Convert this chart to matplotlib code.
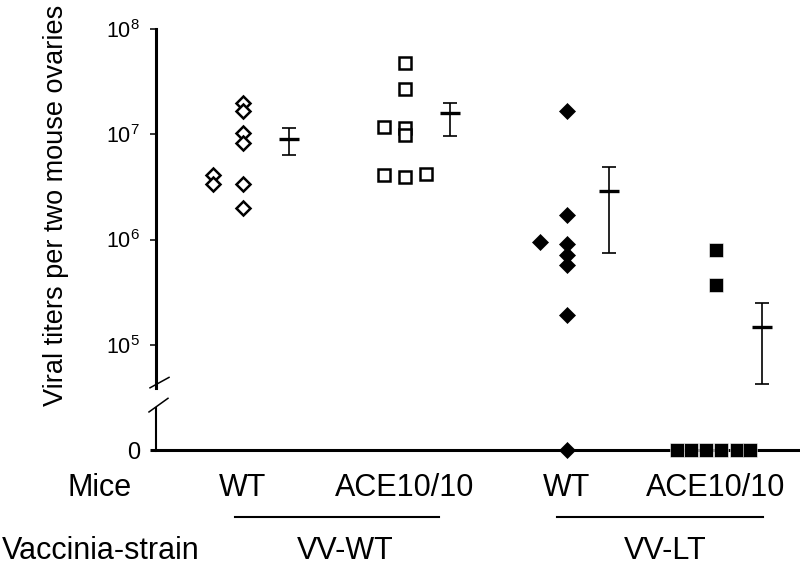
import numpy as np
import matplotlib
matplotlib.use('Agg')
import matplotlib.pyplot as plt
from matplotlib.transforms import blended_transform_factory
from matplotlib.ticker import NullLocator

plt.rcParams['font.family'] = 'Liberation Sans'
plt.rcParams['mathtext.fontset'] = 'custom'
plt.rcParams['mathtext.rm'] = 'Liberation Sans'
plt.rcParams['mathtext.it'] = 'Liberation Sans:italic'

# ---- data ----
mice_labels = ['WT', 'ACE10/10', 'WT', 'ACE10/10']
strain_labels = ['VV-WT', 'VV-LT']

vvwt_wt = [2.0e7, 1.65e7, 1.02e7, 8.2e6, 3.4e6, 2.0e6, 4.1e6, 3.4e6]
vvwt_ace = [4.8e7, 2.7e7, 1.14e7, 9.8e6, 3.9e6, 1.16e7, 4.1e6, 4.2e6]
vvlt_wt = [1.65e7, 1.7e6, 9.0e5, 7.1e5, 5.7e5, 1.9e5, 0, 9.4e5]
vvlt_ace = [7.9e5, 3.7e5, 0, 0, 0, 0, 0, 0]

means = [9.0e6, 1.58e7, 2.9e6, 1.48e5]
upper = [1.14e7, 2.0e7, 4.9e6, 2.5e5]
lower = [6.3e6, 9.6e6, 7.4e5, 4.2e4]

ytick_vals = [0, 1e5, 1e6, 1e7, 1e8]
ytick_labels = ['0', r'$\mathregular{10^5}$', r'$\mathregular{10^6}$',
                r'$\mathregular{10^7}$', r'$\mathregular{10^8}$']

# ---- layout ----
group_x = [1.0, 2.0, 3.0, 3.92]
vvwt_wt_dx = [0, 0, 0, 0, 0, 0, -0.185, -0.185]
vvwt_ace_dx = [0, 0, 0, 0, 0, -0.13, -0.13, 0.13]
vvlt_wt_dx = [0, 0, 0, 0, 0, 0, 0, -0.167]
vvlt_ace_dx = [0, 0, -0.24, -0.154, -0.062, 0.031, 0.13, 0.21]
err_dx = [0.284, 0.278, 0.26, 0.284]
ZERO_LEVEL = 4.0  # zero drawn one decade below 10^5 (broken axis)


def fwd(v):
    v = np.asarray(v, dtype=float)
    with np.errstate(divide='ignore', invalid='ignore'):
        out = np.log10(np.where(v > 0, v, 1.0))
    return np.where(v > 0, out, ZERO_LEVEL)


def inv(y):
    return 10.0 ** np.asarray(y, dtype=float)


fig = plt.figure(figsize=(8, 5.66), dpi=100)
ax = fig.add_axes([0.195, 0.2049, 0.805, 0.7438])
ax.set_yscale('function', functions=(fwd, inv))

groups = [
    (vvwt_wt, vvwt_wt_dx, dict(marker='D', ms=7, mfc='white', mec='black', mew=1.8)),
    (vvwt_ace, vvwt_ace_dx, dict(marker='s', ms=8, mfc='white', mec='black', mew=1.8)),
    (vvlt_wt, vvlt_wt_dx, dict(marker='D', ms=8.3, mfc='black', mec='black', mew=0.5)),
    (vvlt_ace, vvlt_ace_dx, dict(marker='s', ms=10, mfc='black', mec='white', mew=0.4)),
]

for gx, (vals, dxs, style) in zip(group_x, groups):
    xs = [gx + d for d in dxs]
    ax.plot(xs, vals, linestyle='none', clip_on=False, zorder=5, **style)

for i, gx in enumerate(group_x):
    x = gx + err_dx[i]
    ax.errorbar([x], [means[i]], yerr=[[means[i] - lower[i]], [upper[i] - means[i]]],
                fmt='none', ecolor='black', elinewidth=1.2, capsize=4.7, capthick=1.2)
    ax.plot([x], [means[i]], marker='_', ms=14.5, mew=2.4, color='black')

ax.set_xlim(0.463, 4.438)
ax.set_ylim(0, 1e8)
ax.set_yticks(ytick_vals)
ax.set_yticklabels(ytick_labels)
ax.yaxis.set_minor_locator(NullLocator())
ax.set_xticks([])
ax.tick_params(axis='x', length=0)
ax.tick_params(axis='y', direction='out', length=4.5, width=1.1, labelsize=15.5, pad=7)
zero_tick = ax.yaxis.get_major_ticks()[0]
zero_tick.tick1line.set_markeredgewidth(2.2)
zero_tick.label1.set_fontsize(17)

for side in ['top', 'right']:
    ax.spines[side].set_visible(False)
ax.spines['left'].set_linewidth(2.2)
ax.spines['left'].set_bounds(3.9e4, 1e8)
ax.spines['bottom'].set_linewidth(2.2)

# lower piece of the broken y axis and the break marks
yax = ax.get_yaxis_transform()
ax.plot([0, 0], [0, 2.5e4], transform=yax, color='black', lw=1.5, clip_on=False)
ax.plot([-0.0093, 0.0202], [3.9e4, 4.9e4], transform=yax, color='black', lw=1.1, clip_on=False)
ax.plot([-0.0109, 0.0186], [2.3e4, 3.1e4], transform=yax, color='black', lw=1.1, clip_on=False)

fig.text(56 / 800, 1 - 406 / 566, 'Viral titers per two mouse ovaries', rotation=90,
         ha='center', va='bottom', fontsize=19.5)

# category labels under the axis
tr = blended_transform_factory(ax.transData, fig.transFigure)
fig.text(0.125, 0.1237, 'Mice', ha='center', va='baseline', fontsize=22)
fig.text(0.126, 0.013, 'Vaccinia-strain', ha='center', va='baseline', fontsize=22)
for gx, lab in zip(group_x, mice_labels):
    ax.text(gx, 0.1237, lab, transform=tr, ha='center', va='baseline', fontsize=22)

line_ends = [(group_x[0] - 0.05, group_x[1] + 0.21), (group_x[2] - 0.06, group_x[3] + 0.29)]
strain_x = [1.63, 3.605]
for (x0, x1), sx, lab in zip(line_ends, strain_x, strain_labels):
    ax.plot([x0, x1], [0.0866, 0.0866], transform=tr, color='black', lw=1.5, clip_on=False)
    ax.text(sx, 0.013, lab, transform=tr, ha='center', va='baseline', fontsize=22)

plt.savefig('out.png', dpi=100)
plt.close()
